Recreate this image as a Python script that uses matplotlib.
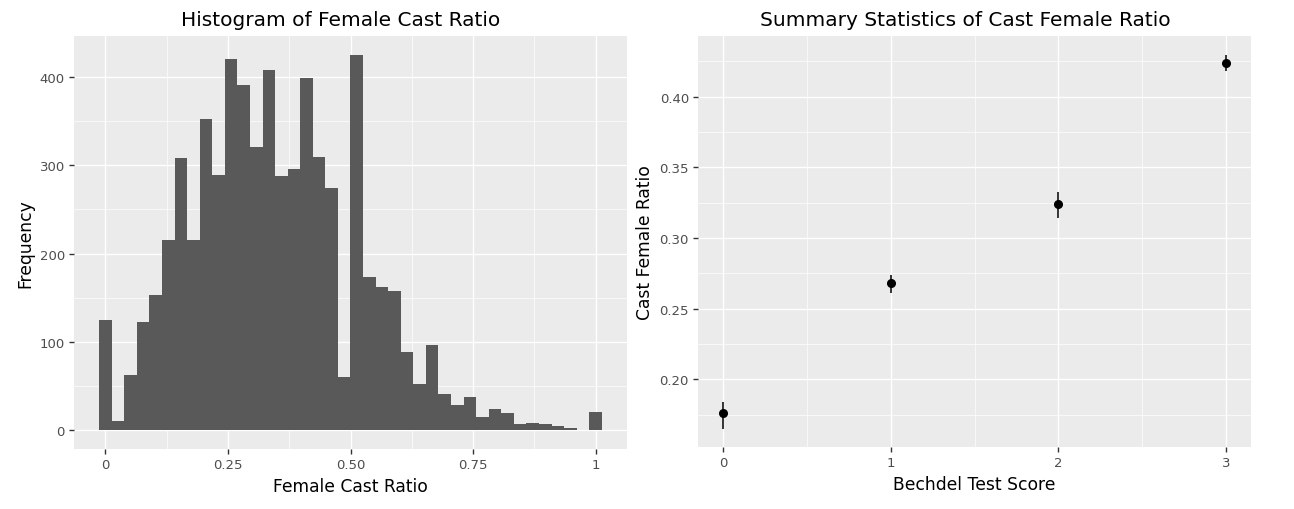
import numpy as np
import matplotlib
matplotlib.use("Agg")
import matplotlib.pyplot as plt
from matplotlib.ticker import MultipleLocator, FixedLocator

# histogram counts, 40 bins from 0 to 1
hist_counts = [125, 10, 63, 122, 153, 215, 308, 215, 352, 289,
               420, 391, 321, 408, 288, 296, 399, 309, 274, 60,
               425, 174, 162, 158, 88, 52, 96, 41, 28, 38,
               15, 24, 19, 7, 8, 7, 5, 2, 0, 21]
hist_min = 0.0
hist_max = 1.0

# summary stats per bechdel score
bechdel_scores = [0, 1, 2, 3]
ratio_mean = [0.176, 0.268, 0.324, 0.424]
ratio_low = [0.165, 0.261, 0.314, 0.418]
ratio_high = [0.184, 0.274, 0.3325, 0.4294]

BG = "#EBEBEB"
TICK_COL = "#4D4D4D"


def gg_style(ax):  # grey ggplot-like panel
    ax.set_facecolor(BG)
    for s in ax.spines.values():
        s.set_visible(False)
    ax.grid(which="major", color="white", linewidth=1.0)
    ax.grid(which="minor", color="white", linewidth=0.5)
    ax.set_axisbelow(True)
    ax.tick_params(which="major", length=3.5, width=1.0, color="#333333",
                   labelcolor=TICK_COL, labelsize=9.5, pad=3)
    ax.tick_params(which="minor", length=0)


fig = plt.figure(figsize=(12.94, 5.10), dpi=100)
ax1 = fig.add_axes([74 / 1294, 1 - 450 / 510, 553 / 1294, 413 / 510])
ax2 = fig.add_axes([698 / 1294, 1 - 448 / 510, 553 / 1294, 411 / 510])

# left: histogram
n = len(hist_counts)
width = (hist_max - hist_min) / (n - 1)
centers = hist_min + width * np.arange(n)
ax1.bar(centers, hist_counts, width=width, color="#595959", linewidth=0)
gg_style(ax1)
top = max(hist_counts)
ax1.set_xlim(-0.064, 1.064)
ax1.set_ylim(-0.05 * top, 1.05 * top)
ax1.xaxis.set_major_locator(FixedLocator([0, 0.25, 0.5, 0.75, 1]))
ax1.set_xticklabels(["0", "0.25", "0.50", "0.75", "1"])
ax1.xaxis.set_minor_locator(FixedLocator([0.125, 0.375, 0.625, 0.875]))
ax1.yaxis.set_major_locator(MultipleLocator(100))
ax1.yaxis.set_minor_locator(FixedLocator([50, 150, 250, 350]))
ax1.set_xlabel("Female Cast Ratio", fontsize=12.3, labelpad=4)
ax1.set_ylabel("Frequency", fontsize=12.3, labelpad=4)
ax1.set_title("Histogram of Female Cast Ratio", fontsize=14.5, x=0.483, pad=8)

# right: mean with error range
yerr = [np.array(ratio_mean) - np.array(ratio_low),
        np.array(ratio_high) - np.array(ratio_mean)]
ax2.errorbar(bechdel_scores, ratio_mean, yerr=yerr, fmt="o", color="black",
             markersize=5.5, elinewidth=1.1, capsize=0)
gg_style(ax2)
ax2.set_xlim(-0.15, 3.15)
ax2.set_ylim(0.152, 0.443)
ax2.xaxis.set_major_locator(FixedLocator(bechdel_scores))
ax2.xaxis.set_minor_locator(FixedLocator([0.5, 1.5, 2.5]))
ax2.yaxis.set_major_locator(FixedLocator([0.20, 0.25, 0.30, 0.35, 0.40]))
ax2.set_yticklabels(["0.20", "0.25", "0.30", "0.35", "0.40"])
ax2.yaxis.set_minor_locator(FixedLocator([0.175, 0.225, 0.275, 0.325, 0.375, 0.425]))
ax2.set_xlabel("Bechdel Test Score", fontsize=12.3, labelpad=4)
ax2.set_ylabel("Cast Female Ratio", fontsize=12.3, labelpad=4)
ax2.set_title("Summary Statistics of Cast Female Ratio", fontsize=14.5, x=0.483, pad=8)

fig.savefig("out.png", dpi=100, facecolor="white")
